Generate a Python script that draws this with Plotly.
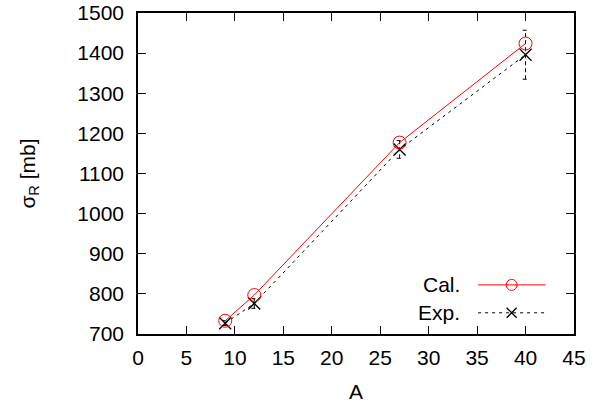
import plotly.graph_objects as go

A = [9, 12, 27, 40]
cal = [733, 797, 1177, 1424]
exp_vals = [727, 776, 1160, 1396]
exp_err = [6, 12, 22, 61]

x_ticks = [0, 5, 10, 15, 20, 25, 30, 35, 40, 45]
y_ticks = [700, 800, 900, 1000, 1100, 1200, 1300, 1400, 1500]

FONT = "Liberation Sans, Arial, sans-serif"
FS = 21

fig = go.Figure()

# dashed error bars built from data
ex, ey = [], []
cap = 0.3
for a, v, e in zip(A, exp_vals, exp_err):
    ex += [a, a, None, a - cap, a + cap, None, a - cap, a + cap, None]
    ey += [v - e, v + e, None, v - e, v - e, None, v + e, v + e, None]
fig.add_trace(go.Scatter(x=ex, y=ey, mode="lines", showlegend=False,
                         line=dict(color="black", width=1, dash="4px,3px"),
                         hoverinfo="skip"))

exp_marker = dict(symbol="x-thin-open", size=12, color="black",
                  line=dict(color="black", width=1.3))
cal_marker = dict(symbol="circle-open", size=13, color="#ff0000",
                  line=dict(color="#ff0000", width=1))
exp_line = dict(color="black", width=1, dash="3px,4px")
cal_line = dict(color="#ff0000", width=1)

fig.add_trace(go.Scatter(x=A, y=exp_vals, mode="lines+markers", name="Exp.",
                         line=exp_line, marker=exp_marker, showlegend=False))
fig.add_trace(go.Scatter(x=A, y=cal, mode="lines+markers", name="Cal.",
                         line=cal_line, marker=cal_marker, showlegend=False))

# manual legend (text left of sample, as in reference)
legend_items = [("Cal.", 0.153, cal_line, dict(cal_marker, size=11)),
                ("Exp.", 0.066, exp_line, dict(exp_marker, size=10))]
for name, yy, ln, mk in legend_items:
    fig.add_annotation(xref="paper", yref="paper", x=0.743, y=yy, text=name,
                       showarrow=False, xanchor="right", yanchor="middle",
                       font=dict(family=FONT, size=FS, color="black"))
    fig.add_trace(go.Scatter(x=[0.78, 0.857, 0.935], y=[yy, yy, yy],
                             xaxis="x2", yaxis="y2", mode="lines",
                             line=ln, showlegend=False, hoverinfo="skip"))
    fig.add_trace(go.Scatter(x=[0.857], y=[yy], xaxis="x2", yaxis="y2",
                             mode="markers", marker=mk, showlegend=False,
                             hoverinfo="skip"))

axis_common = dict(showline=True, linecolor="black", linewidth=1.5, mirror="ticks",
                   ticks="inside", ticklen=8, tickwidth=1.3, tickcolor="black",
                   showgrid=False, zeroline=False, automargin=False,
                   tickfont=dict(family=FONT, size=FS, color="black"))

fig.update_layout(
    width=607, height=406,
    margin=dict(l=138, r=33, t=13, b=72),
    paper_bgcolor="white", plot_bgcolor="white",
    xaxis=dict(range=[0, 45], tickvals=x_ticks, ticktext=[str(v) for v in x_ticks],
               ticklabelstandoff=4,
               title=dict(text="A", font=dict(family=FONT, size=FS, color="black"), standoff=16),
               **axis_common),
    yaxis=dict(range=[700, 1500], tickvals=y_ticks, ticktext=[str(v) for v in y_ticks],
               ticklabelstandoff=8,
               title=dict(text="σ<sub>R</sub> [mb]", font=dict(family=FONT, size=FS, color="black"), standoff=36),
               **axis_common),
    xaxis2=dict(range=[0, 1], overlaying="x", visible=False, fixedrange=True),
    yaxis2=dict(range=[0, 1], overlaying="y", visible=False, fixedrange=True),
    showlegend=False,
)

fig.write_html("out.html")
